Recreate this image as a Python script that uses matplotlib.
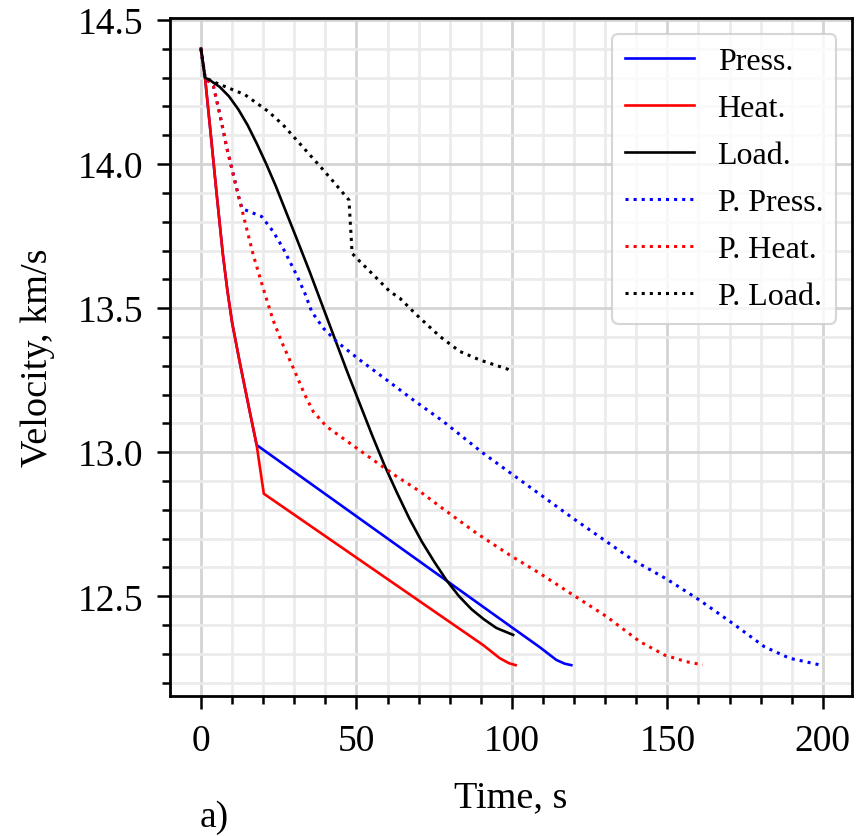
import matplotlib
matplotlib.use("Agg")
import matplotlib.pyplot as plt
from matplotlib.ticker import MultipleLocator, FormatStrFormatter

plt.rcParams['font.family'] = ['Liberation Serif', 'DejaVu Serif']

# solid curves
press_t = [0, 1.3, 3, 5, 7, 8.5, 10, 12.5, 15.7, 17.9, 100.4, 109, 114.3, 117, 119.1]
press_v = [14.40, 14.30, 14.118, 13.90, 13.69, 13.56, 13.45, 13.31, 13.14, 13.025,
           12.389, 12.323, 12.279, 12.266, 12.261]

heat_t = [0, 1.3, 3, 5, 7, 8.5, 10, 12.5, 15.7, 17.9, 20.2, 90.7, 96.1, 99, 101.2]
heat_v = [14.40, 14.30, 14.118, 13.90, 13.69, 13.56, 13.45, 13.31, 13.14, 13.025,
          12.856, 12.331, 12.285, 12.268, 12.261]

load_t = [0, 1.3, 3, 6, 9, 12, 15, 18, 21, 24, 27.5, 31, 35, 39, 43, 47, 51, 55, 59,
          63, 67, 71, 75, 79, 83, 87, 91, 95, 100.4]
load_v = [14.40, 14.30, 14.29, 14.268, 14.235, 14.19, 14.135, 14.07, 14.0, 13.925,
          13.83, 13.735, 13.625, 13.51, 13.395, 13.28, 13.17, 13.06, 12.955, 12.86,
          12.77, 12.69, 12.62, 12.555, 12.50, 12.455, 12.42, 12.39, 12.366]

# dotted (P.) curves
ppress_t = [0, 1.3, 4, 6.1, 8.3, 10.4, 12.5, 13.3, 19.5, 23.2, 26.4, 30.7, 33.4, 35.6,
            39.3, 43.6, 51.1, 59.7, 68.2, 77.9, 90.7, 100.4, 119.6, 138.9, 150.2,
            160.3, 171, 181.2, 189.3, 199.4]
ppress_v = [14.40, 14.30, 14.27, 14.171, 14.056, 13.963, 13.87, 13.845, 13.818, 13.766,
            13.708, 13.616, 13.552, 13.488, 13.431, 13.384, 13.32, 13.251, 13.182,
            13.107, 12.997, 12.921, 12.771, 12.626, 12.557, 12.487, 12.406, 12.325,
            12.285, 12.261]

pheat_t = [0, 1.3, 4, 6.1, 8.3, 10.4, 12.5, 14.1, 16.8, 20, 23.2, 25.9, 29.7, 33.4,
           36.1, 40.4, 47.9, 55.4, 62.9, 70.4, 76.8, 88.6, 99.3, 108.9, 119.6, 130.4,
           141.1, 149.1, 156.1, 161.4]
pheat_v = [14.40, 14.30, 14.27, 14.171, 14.056, 13.963, 13.87, 13.801, 13.685, 13.569,
           13.458, 13.384, 13.292, 13.199, 13.141, 13.089, 13.031, 12.973, 12.916,
           12.864, 12.812, 12.719, 12.643, 12.58, 12.505, 12.43, 12.343, 12.296,
           12.273, 12.262]

pload_t = [0, 1.3, 5, 14.1, 21.6, 26.4, 30.7, 34.5, 38.8, 42.5, 47.6, 48.6, 51.1, 55.4,
           60.7, 63.9, 69.3, 76.8, 83.2, 89.7, 98.7, 100]
pload_v = [14.40, 14.30, 14.281, 14.241, 14.183, 14.136, 14.084, 14.038, 13.986, 13.94,
           13.875, 13.69, 13.662, 13.616, 13.558, 13.535, 13.477, 13.402, 13.35, 13.32,
           13.288, 13.28]

fig = plt.figure(figsize=(8.56, 8.37), dpi=100)
ax = fig.add_axes([0.1986, 0.1673, 0.7967, 0.81])

lw = 1.9
ax.plot(press_t, press_v, color='blue', lw=lw, label='Press.')
ax.plot(heat_t, heat_v, color='red', lw=lw, label='Heat.')
ax.plot(load_t, load_v, color='black', lw=lw, label='Load.')
ax.plot(ppress_t, ppress_v, color='blue', lw=2.2, ls=':', label='P. Press.')
ax.plot(pheat_t, pheat_v, color='red', lw=2.2, ls=':', label='P. Heat.')
ax.plot(pload_t, pload_v, color='black', lw=2.2, ls=':', label='P. Load.')

ax.xaxis.set_major_locator(MultipleLocator(50))
ax.xaxis.set_minor_locator(MultipleLocator(10))
ax.yaxis.set_major_locator(MultipleLocator(0.5))
ax.yaxis.set_minor_locator(MultipleLocator(0.1))
ax.yaxis.set_major_formatter(FormatStrFormatter('%.1f'))

ax.grid(which='major', color='#d4d4d4', lw=2.0)
ax.grid(which='minor', color='#ebebeb', lw=2.0)
ax.set_axisbelow(True)

for s in ax.spines.values():
    s.set_linewidth(2.0)
ax.tick_params(which='major', length=9.5, width=1.8, labelsize=27, pad=10)
ax.tick_params(which='minor', length=5.5, width=1.8)

ax.set_xlabel('Time, s', fontsize=27.5, labelpad=16)
ax.set_ylabel('Velocity, km/s', fontsize=27.5, labelpad=16)

leg = ax.legend(loc='upper right', fontsize=23, handlelength=2.15, handletextpad=0.75,
                labelspacing=0.55, fancybox=True)
leg.get_frame().set_edgecolor('#cccccc')
leg.get_frame().set_linewidth(1.5)

fig.text(200 / 856, 1 - 827 / 837, 'a)', fontsize=27, ha='left', va='baseline')

fig.savefig('out.png', dpi=100)
